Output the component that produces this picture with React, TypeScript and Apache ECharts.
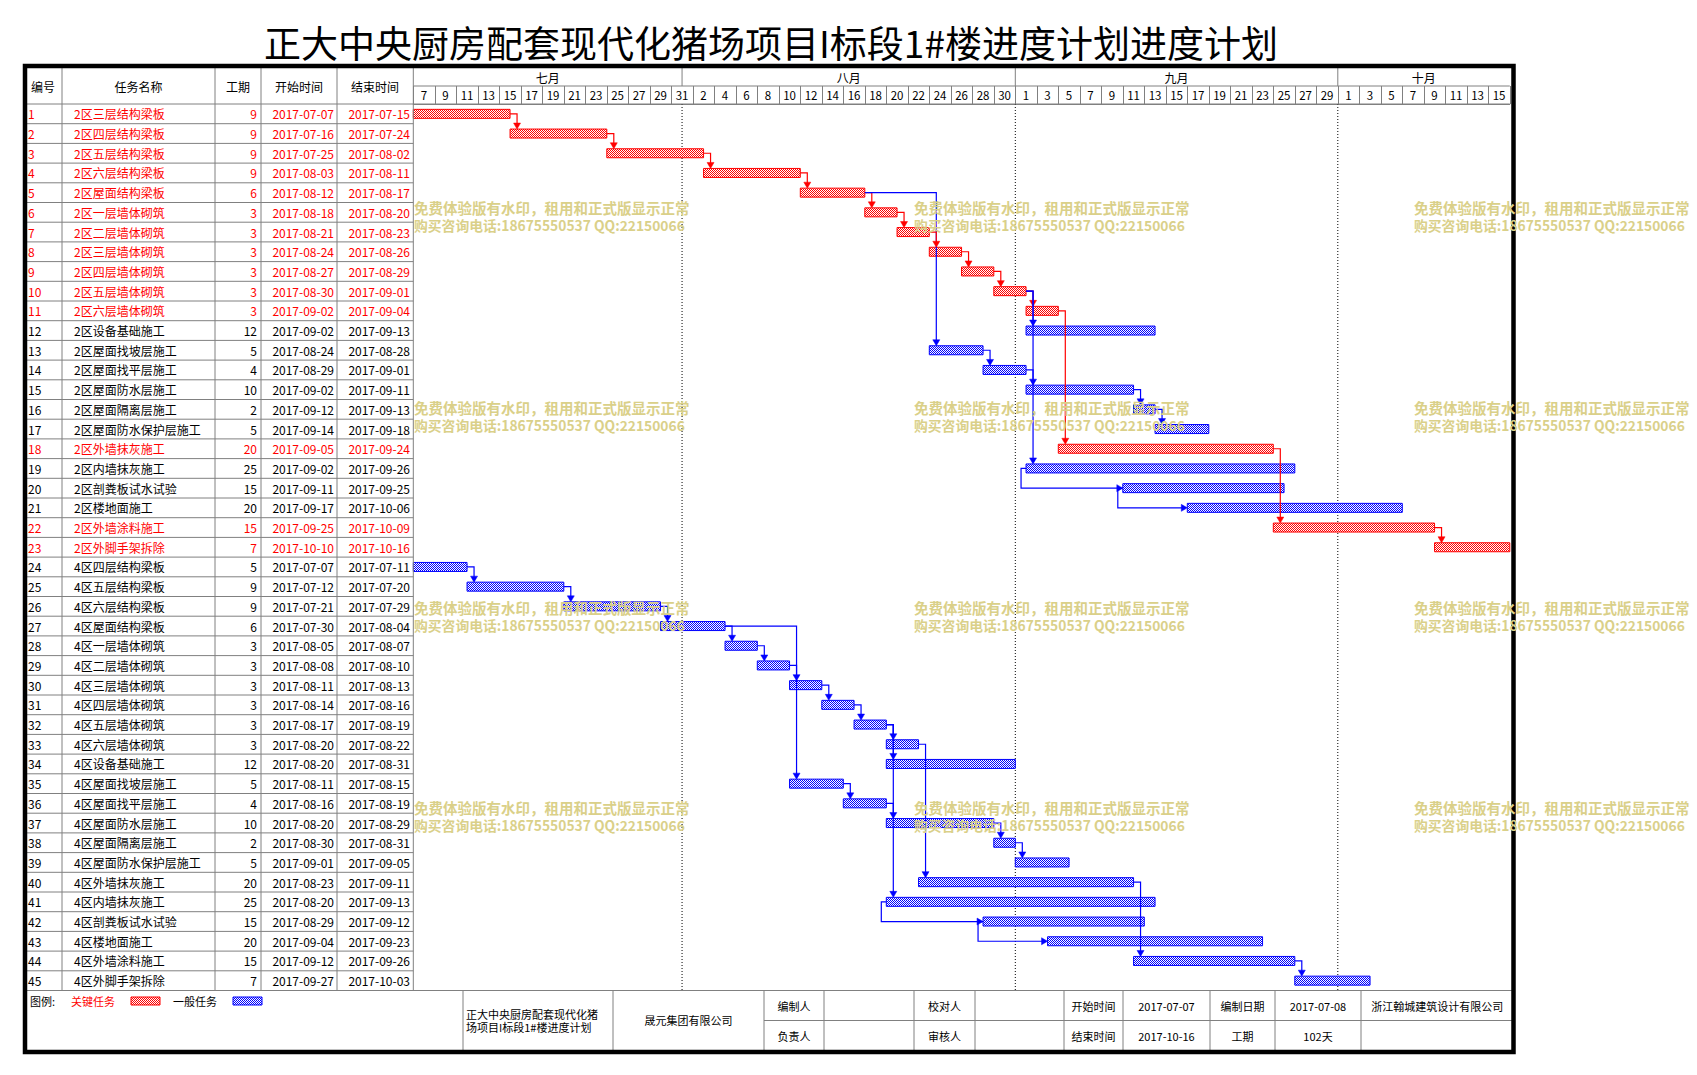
import React, { useEffect, useRef } from 'react';
import * as echarts from 'echarts';

const chartTitle = '正大中央厨房配套现代化猪场项目I标段1#楼进度计划进度计划';
const headerLabels = ['编号', '任务名称', '工期', '开始时间', '结束时间'];

const taskIds = [1,2,3,4,5,6,7,8,9,10,11,12,13,14,15,16,17,18,19,20,21,22,23,24,25,26,27,28,29,30,31,32,33,34,35,36,37,38,39,40,41,42,43,44,45];
const taskNames = [
  '2区三层结构梁板','2区四层结构梁板','2区五层结构梁板','2区六层结构梁板','2区屋面结构梁板',
  '2区一层墙体砌筑','2区二层墙体砌筑','2区三层墙体砌筑','2区四层墙体砌筑','2区五层墙体砌筑',
  '2区六层墙体砌筑','2区设备基础施工','2区屋面找坡层施工','2区屋面找平层施工','2区屋面防水层施工',
  '2区屋面隔离层施工','2区屋面防水保护层施工','2区外墙抹灰施工','2区内墙抹灰施工','2区剖粪板试水试验',
  '2区楼地面施工','2区外墙涂料施工','2区外脚手架拆除',
  '4区四层结构梁板','4区五层结构梁板','4区六层结构梁板','4区屋面结构梁板',
  '4区一层墙体砌筑','4区二层墙体砌筑','4区三层墙体砌筑','4区四层墙体砌筑','4区五层墙体砌筑',
  '4区六层墙体砌筑','4区设备基础施工','4区屋面找坡层施工','4区屋面找平层施工','4区屋面防水层施工',
  '4区屋面隔离层施工','4区屋面防水保护层施工','4区外墙抹灰施工','4区内墙抹灰施工','4区剖粪板试水试验',
  '4区楼地面施工','4区外墙涂料施工','4区外脚手架拆除'
];
const durations = [9,9,9,9,6,3,3,3,3,3,3,12,5,4,10,2,5,20,25,15,20,15,7,5,9,9,6,3,3,3,3,3,3,12,5,4,10,2,5,20,25,15,20,15,7];
const startDates = [
  '2017-07-07','2017-07-16','2017-07-25','2017-08-03','2017-08-12','2017-08-18','2017-08-21','2017-08-24','2017-08-27','2017-08-30',
  '2017-09-02','2017-09-02','2017-08-24','2017-08-29','2017-09-02','2017-09-12','2017-09-14','2017-09-05','2017-09-02','2017-09-11',
  '2017-09-17','2017-09-25','2017-10-10',
  '2017-07-07','2017-07-12','2017-07-21','2017-07-30','2017-08-05','2017-08-08','2017-08-11','2017-08-14','2017-08-17','2017-08-20',
  '2017-08-20','2017-08-11','2017-08-16','2017-08-20','2017-08-30','2017-09-01','2017-08-23','2017-08-20','2017-08-29','2017-09-04',
  '2017-09-12','2017-09-27'
];
const endDates = [
  '2017-07-15','2017-07-24','2017-08-02','2017-08-11','2017-08-17','2017-08-20','2017-08-23','2017-08-26','2017-08-29','2017-09-01',
  '2017-09-04','2017-09-13','2017-08-28','2017-09-01','2017-09-11','2017-09-13','2017-09-18','2017-09-24','2017-09-26','2017-09-25',
  '2017-10-06','2017-10-09','2017-10-16',
  '2017-07-11','2017-07-20','2017-07-29','2017-08-04','2017-08-07','2017-08-10','2017-08-13','2017-08-16','2017-08-19','2017-08-22',
  '2017-08-31','2017-08-15','2017-08-19','2017-08-29','2017-08-31','2017-09-05','2017-09-11','2017-09-13','2017-09-12','2017-09-23',
  '2017-09-26','2017-10-03'
];
const critical = [1,1,1,1,1,1,1,1,1,1,1,0,0,0,0,0,0,1,0,0,0,1,1,0,0,0,0,0,0,0,0,0,0,0,0,0,0,0,0,0,0,0,0,0,0];

const linkFrom = [1,2,3,4,5,5,6,7,8,9,10,10,11,13,14,15,16,10,19,20,18,22, 24,25,26,27,27,28,29,30,31,32,32,35,36,37,38,33,32,41,42,40,44];
const linkTo   = [2,3,4,5,6,13,7,8,9,10,11,12,18,14,15,16,17,19,20,21,22,23, 25,26,27,28,35,29,30,31,32,33,34,36,37,38,39,40,41,42,43,44,45];
const linkType = ['FS','FS','FS','FS','FS','FS','FS','FS','FS','FS','FS','FS','FS','FS','FS','FS','FS','FS','SS','SS','FS','FS',
  'FS','FS','FS','FS','FS','FS','FS','FS','FS','FS','FS','FS','FS','FS','FS','FS','FS','SS','SS','FS','FS'];

const projectStart = '2017-07-07';
const totalDays = 102;
const dayLabels = ['7','9','11','13','15','17','19','21','23','25','27','29','31',
  '2','4','6','8','10','12','14','16','18','20','22','24','26','28','30',
  '1','3','5','7','9','11','13','15','17','19','21','23','25','27','29',
  '1','3','5','7','9','11','13','15'];
const monthNames = ['七月','八月','九月','十月'];
const monthStarts = ['2017-07-07','2017-08-01','2017-09-01','2017-10-01'];
const monthEnds = ['2017-07-31','2017-08-31','2017-09-30','2017-10-16'];

const watermarkLines = ['免费体验版有水印，租用和正式版显示正常', '购买咨询电话:18675550537 QQ:22150066'];
const legendLabels = ['图例:', '关键任务', '一般任务'];
const footerProject = ['正大中央厨房配套现代化猪', '场项目I标段1#楼进度计划'];
const footerOwner = '晟元集团有限公司';
const footerRow1 = ['编制人', '', '校对人', '', '开始时间', '2017-07-07', '编制日期', '2017-07-08', '浙江翰城建筑设计有限公司'];
const footerRow2 = ['负责人', '', '审核人', '', '结束时间', '2017-10-16', '工期', '102天', ''];

function dayIndex(d: string) {
  const [y, m, dd] = d.split('-').map(Number);
  const [y0, m0, d0] = projectStart.split('-').map(Number);
  return Math.round((Date.UTC(y, m - 1, dd) - Date.UTC(y0, m0 - 1, d0)) / 86400000);
}

const F = '"Noto Sans CJK SC", "Noto Sans", sans-serif';
const RED = '#ff0000';
const BLUE = '#0000ff';
const GRAY = '#808080';

const GRID_L = 413.3;
const GRID_R = 1509.8;
const GRID_T = 104;
const ROW_H = 19.7;
const GRID_B = GRID_T + 45 * ROW_H;
const FR = { l: 25, t: 66, r: 1513.5, b: 1052 };
const COLS = [62, 215, 261, 337];
const FOOT_MID = 1020.5;
const FOOT_COLS = [463, 613, 764, 824, 914, 975, 1064, 1123, 1210, 1275, 1361];

function makePattern(color: string) {
  const c = document.createElement('canvas');
  c.width = 2; c.height = 2;
  const ctx = c.getContext('2d')!;
  ctx.fillStyle = '#ffffff'; ctx.fillRect(0, 0, 2, 2);
  ctx.fillStyle = color; ctx.fillRect(0, 0, 1, 1); ctx.fillRect(1, 1, 1, 1);
  return { image: c, repeat: 'repeat', imageWidth: 2, imageHeight: 2 } as any;
}

function txt(text: string, x: number, y: number, size: number, fill: string, align = 'center', extra: any = {}) {
  return { type: 'text', silent: true, style: { text, x, y, fill, font: `${extra.weight || 'normal'} ${size}px ${F}`, textAlign: align, textVerticalAlign: 'middle' }, z: extra.z || 10 };
}
function ln(x1: number, y1: number, x2: number, y2: number, stroke = GRAY, w = 1, extra: any = {}) {
  return { type: 'line', silent: true, shape: { x1, y1, x2, y2 }, style: { stroke, lineWidth: w, lineDash: extra.dash }, z: extra.z || 5 };
}

export default function App() {
  const ref = useRef<HTMLDivElement>(null);
  useEffect(() => {
    if (!ref.current) return;
    const chart = echarts.init(ref.current, undefined, { renderer: 'svg' });
    const redPat = makePattern(RED);
    const bluePat = makePattern(BLUE);

    const g: any[] = [];
    // title
    g.push(txt(chartTitle, 771, 42, 37, '#000', 'center', { weight: 'normal' }));
    // frame
    g.push({ type: 'rect', silent: true, shape: { x: FR.l, y: FR.t, width: FR.r - FR.l, height: FR.b - FR.t }, style: { fill: 'none', stroke: '#000', lineWidth: 4.5 }, z: 20 });
    // header lines
    g.push(ln(FR.l, GRID_T, GRID_R, GRID_T));
    g.push(ln(GRID_L, 86, GRID_R, 86));
    COLS.forEach((x) => g.push(ln(x, FR.t, x, GRID_B)));
    g.push(ln(GRID_L, FR.t, GRID_L, GRID_B));
    const headCenters = [43, 138.5, 238, 299, 375];
    headerLabels.forEach((h, i) => g.push(txt(h, headCenters[i], 86, 12, '#000')));
    // footer
    g.push(ln(FR.l, GRID_B, FR.r, GRID_B));
    FOOT_COLS.forEach((x) => g.push(ln(x, GRID_B, x, FR.b)));
    g.push(ln(FOOT_COLS[2], FOOT_MID, FR.r, FOOT_MID));
    g.push(txt(footerProject[0], 466, 1014, 11, '#000', 'left'));
    g.push(txt(footerProject[1], 466, 1027, 11, '#000', 'left'));
    g.push(txt(footerOwner, (FOOT_COLS[1] + FOOT_COLS[2]) / 2, 1020, 11, '#000'));
    const fEdges = [...FOOT_COLS.slice(2), FR.r];
    footerRow1.forEach((t, i) => { if (t) g.push(txt(t, (fEdges[i] + fEdges[i + 1]) / 2, 1005.5, 11, '#000')); });
    footerRow2.forEach((t, i) => { if (t) g.push(txt(t, (fEdges[i] + fEdges[i + 1]) / 2, 1035.5, 11, '#000')); });
    // legend
    g.push(txt(legendLabels[0], 30, 1001, 11, '#000', 'left'));
    g.push(txt(legendLabels[1], 71, 1001, 11, RED, 'left'));
    g.push({ type: 'rect', silent: true, shape: { x: 131, y: 997, width: 29, height: 8 }, style: { fill: redPat, stroke: RED, lineWidth: 1 }, z: 10 });
    g.push(txt(legendLabels[2], 173, 1001, 11, '#000', 'left'));
    g.push({ type: 'rect', silent: true, shape: { x: 233, y: 997, width: 29, height: 8 }, style: { fill: bluePat, stroke: BLUE, lineWidth: 1 }, z: 10 });
    // watermarks
    const wmX = [414, 914, 1414];
    const wmY = [207, 407, 607, 807];
    wmX.forEach((x) => wmY.forEach((y) => {
      g.push(txt(watermarkLines[0], x, y, 14.5, '#dad089', 'left', { weight: 'bold', z: 30 }));
      g.push(txt(watermarkLines[1], x, y + 17.5, 13.8, '#dad089', 'left', { weight: 'bold', z: 30 }));
    }));

    const barData = taskIds.map((_, i) => [dayIndex(startDates[i]), i, dayIndex(endDates[i]) + 1, critical[i]]);
    const monthData = monthNames.map((_, i) => [dayIndex(monthStarts[i]), 0, dayIndex(monthEnds[i]) + 1]);

    const option: any = {
      animation: false,
      backgroundColor: '#ffffff',
      grid: { left: GRID_L, top: GRID_T, width: GRID_R - GRID_L, height: GRID_B - GRID_T, containLabel: false, show: false },
      xAxis: [
        { type: 'value', min: 0, max: totalDays, show: false },
        {
          type: 'category', data: dayLabels, position: 'top', boundaryGap: true,
          axisLine: { show: true, lineStyle: { color: GRAY } },
          axisTick: { show: true, length: 18, interval: 0, lineStyle: { color: GRAY } },
          axisLabel: { interval: 0, margin: 3, color: '#000', fontSize: 11.5, fontFamily: F },
          splitLine: { show: false }
        }
      ],
      yAxis: { type: 'category', inverse: true, data: taskIds.map(String), show: false },
      graphic: { elements: g },
      series: [
        {
          type: 'custom', name: 'table', clip: false, silent: true, z: 3,
          data: taskIds.map((_, i) => [0, i]),
          renderItem: (params: any, api: any) => {
            const i = params.dataIndex;
            const y = api.coord([0, i])[1];
            const col = critical[i] ? RED : '#000';
            const font = `12px ${F}`;
            const mk = (text: string, x: number, align: string) => ({ type: 'text', style: { text, x, y, fill: col, font, textAlign: align, textVerticalAlign: 'middle' } });
            return {
              type: 'group', children: [
                mk(String(taskIds[i]), 28, 'left'),
                mk(taskNames[i], 74, 'left'),
                mk(String(durations[i]), 257, 'right'),
                mk(startDates[i], 334, 'right'),
                mk(endDates[i], 410, 'right'),
                { type: 'line', shape: { x1: FR.l, y1: y + ROW_H / 2, x2: GRID_L, y2: y + ROW_H / 2 }, style: { stroke: GRAY, lineWidth: 1 } }
              ]
            };
          }
        },
        {
          type: 'custom', name: 'months', clip: false, silent: true, z: 2,
          data: monthData,
          renderItem: (params: any, api: any) => {
            const i = params.dataIndex;
            const x0 = api.coord([api.value(0), 0])[0];
            const x1 = api.coord([api.value(2), 0])[0];
            const ch: any[] = [
              { type: 'text', style: { text: monthNames[i], x: (x0 + x1) / 2, y: 77, fill: '#000', font: `12px ${F}`, textAlign: 'center', textVerticalAlign: 'middle' } }
            ];
            if (i > 0) {
              ch.push({ type: 'line', shape: { x1: x0, y1: FR.t, x2: x0, y2: 86 }, style: { stroke: GRAY, lineWidth: 1 } });
              ch.push({ type: 'line', shape: { x1: x0, y1: GRID_T, x2: x0, y2: GRID_B }, style: { stroke: '#000', lineWidth: 1, lineDash: [1, 2] } });
            }
            return { type: 'group', children: ch };
          }
        },
        {
          type: 'custom', name: 'bars', clip: false, silent: true, z: 4,
          data: barData,
          renderItem: (params: any, api: any) => {
            const p0 = api.coord([api.value(0), api.value(1)]);
            const p1 = api.coord([api.value(2), api.value(1)]);
            const crit = api.value(3) === 1;
            return {
              type: 'rect',
              shape: { x: p0[0], y: p0[1] - 4.5, width: p1[0] - p0[0], height: 9 },
              style: { fill: crit ? redPat : bluePat, stroke: crit ? RED : BLUE, lineWidth: 1 }
            };
          }
        },
        {
          type: 'custom', name: 'links', clip: false, silent: true, z: 6,
          data: linkFrom.map((_, i) => [0, i]),
          renderItem: (params: any, api: any) => {
            const k = params.dataIndex;
            const p = linkFrom[k] - 1;
            const s = linkTo[k] - 1;
            const yP = api.coord([0, p])[1];
            const yS = api.coord([0, s])[1];
            const xPs = api.coord([dayIndex(startDates[p]), p])[0];
            const xPe = api.coord([dayIndex(endDates[p]) + 1, p])[0];
            const xSs = api.coord([dayIndex(startDates[s]), s])[0];
            const color = critical[p] && critical[s] ? RED : BLUE;
            let pts: number[][];
            let arrow: number[][];
            if (linkType[k] === 'SS') {
              const xl = xPs - 5;
              pts = [[xPs, yP], [xl, yP], [xl, yS], [xSs - 5, yS]];
              arrow = [[xSs - 6, yS - 3.5], [xSs - 6, yS + 3.5], [xSs, yS]];
            } else {
              const xd = Math.max(xPe, xSs) + 7;
              const yt = yS - 4.5;
              pts = [[xPe, yP], [xd, yP], [xd, yt - 5]];
              arrow = [[xd - 3.5, yt - 6], [xd + 3.5, yt - 6], [xd, yt]];
            }
            return {
              type: 'group', children: [
                { type: 'polyline', shape: { points: pts }, style: { stroke: color, lineWidth: 1.2, fill: 'none' } },
                { type: 'polygon', shape: { points: arrow }, style: { fill: color, stroke: color, lineWidth: 0.5 } }
              ]
            };
          }
        }
      ]
    };
    chart.setOption(option);
    return () => chart.dispose();
  }, []);
  return <div ref={ref} style={{ position: 'fixed', left: 0, top: 0, width: 1697, height: 1075, background: '#fff' }} />;
}
